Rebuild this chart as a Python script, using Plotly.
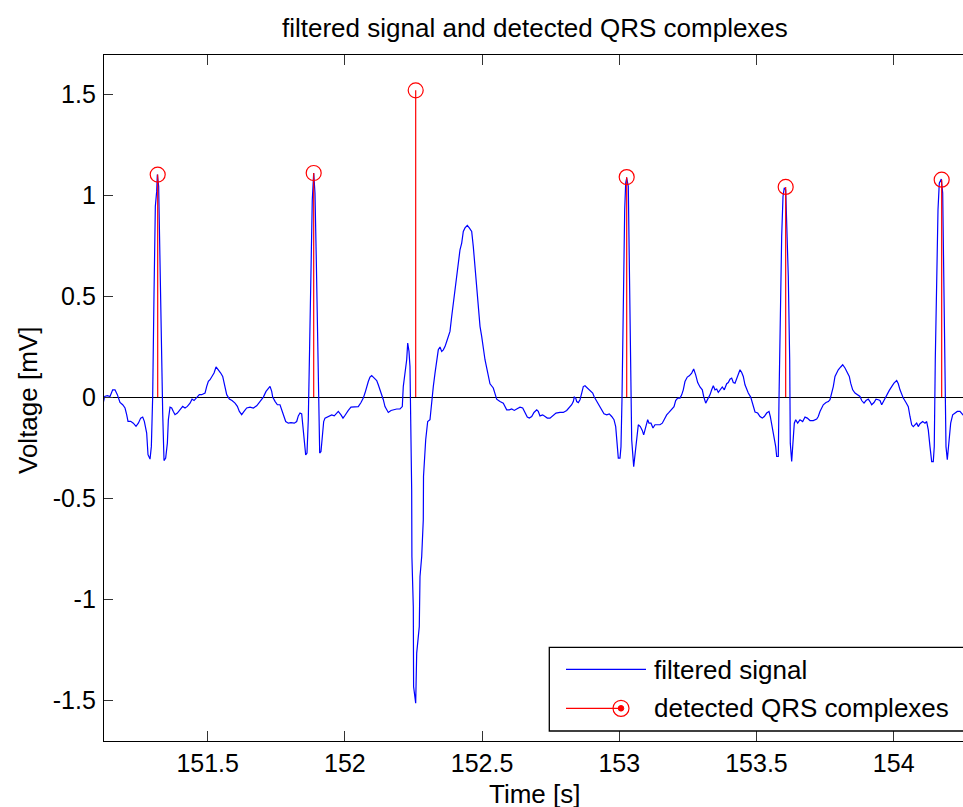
import plotly.graph_objects as go

# ---- data ----
time_s = [
    151.1197, 151.1245, 151.1343, 151.1440, 151.1537, 151.1622, 151.1707, 151.1804, 151.1902, 151.1987,
    151.2047, 151.2096, 151.2193, 151.2290, 151.2388, 151.2473, 151.2558, 151.2631, 151.2691, 151.2776,
    151.2825, 151.2898, 151.2947, 151.2995, 151.3044, 151.3092, 151.3141, 151.3165, 151.3213, 151.3262,
    151.3311, 151.3360, 151.3408, 151.3469, 151.3530, 151.3566, 151.3627, 151.3688, 151.3748, 151.3809,
    151.3894, 151.3991, 151.4089, 151.4174, 151.4259, 151.4356, 151.4429, 151.4502, 151.4599, 151.4696,
    151.4781, 151.4903, 151.4964, 151.5024, 151.5085, 151.5170, 151.5231, 151.5304, 151.5389, 151.5474,
    151.5547, 151.5595, 151.5644, 151.5693, 151.5790, 151.5887, 151.5996, 151.6081, 151.6154, 151.6239,
    151.6324, 151.6422, 151.6543, 151.6665, 151.6786, 151.6908, 151.7029, 151.7126, 151.7211, 151.7272,
    151.7333, 151.7369, 151.7454, 151.7540, 151.7635, 151.7697, 151.7755, 151.7843, 151.7937, 151.8036,
    151.8156, 151.8243, 151.8302, 151.8364, 151.8426, 151.8473, 151.8520, 151.8571, 151.8619, 151.8666,
    151.8717, 151.8765, 151.8812, 151.8863, 151.8910, 151.8958, 151.9009, 151.9056, 151.9082, 151.9129,
    151.9176, 151.9227, 151.9275, 151.9373, 151.9457, 151.9519, 151.9614, 151.9701, 151.9760, 151.9858,
    151.9931, 151.9978, 152.0051, 152.0124, 152.0222, 152.0368, 152.0488, 152.0587, 152.0670, 152.0732,
    152.0794, 152.0853, 152.0915, 152.0977, 152.1071, 152.1159, 152.1217, 152.1279, 152.1341, 152.1400,
    152.1461, 152.1523, 152.1582, 152.1680, 152.1764, 152.1888, 152.2008, 152.2092, 152.2128, 152.2190,
    152.2252, 152.2289, 152.2336, 152.2372, 152.2409, 152.2434, 152.2442, 152.2493, 152.2504, 152.2580,
    152.2617, 152.2711, 152.2737, 152.2799, 152.2857, 152.2865, 152.2945, 152.3017, 152.3101, 152.3163,
    152.3222, 152.3284, 152.3345, 152.3404, 152.3466, 152.3528, 152.3586, 152.3648, 152.3710, 152.3768,
    152.3830, 152.3892, 152.3950, 152.4012, 152.4074, 152.4133, 152.4195, 152.4257, 152.4315, 152.4377,
    152.4461, 152.4534, 152.4621, 152.4679, 152.4741, 152.4803, 152.4862, 152.4924, 152.4985, 152.5044,
    152.5106, 152.5168, 152.5226, 152.5288, 152.5408, 152.5470, 152.5532, 152.5652, 152.5773, 152.5897,
    152.5991, 152.6079, 152.6174, 152.6261, 152.6381, 152.6480, 152.6564, 152.6647, 152.6720, 152.6808,
    152.6891, 152.6990, 152.7048, 152.7110, 152.7208, 152.7292, 152.7376, 152.7475, 152.7536, 152.7595,
    152.7693, 152.7839, 152.7959, 152.8083, 152.8178, 152.8265, 152.8324, 152.8360, 152.8411, 152.8448,
    152.8506, 152.8568, 152.8630, 152.8688, 152.8750, 152.8834, 152.8932, 152.9031, 152.9089, 152.9176,
    152.9235, 152.9297, 152.9369, 152.9442, 152.9541, 152.9636, 152.9723, 152.9807, 152.9869, 152.9905,
    152.9942, 152.9964, 153.0026, 153.0062, 153.0098, 153.0146, 153.0197, 153.0233, 153.0270, 153.0328,
    153.0364, 153.0401, 153.0452, 153.0525, 153.0598, 153.0645, 153.0693, 153.0766, 153.0838, 153.0889,
    153.0962, 153.1035, 153.1083, 153.1155, 153.1228, 153.1301, 153.1399, 153.1483, 153.1567, 153.1640,
    153.1727, 153.1811, 153.1910, 153.1994, 153.2055, 153.2128, 153.2212, 153.2274, 153.2332, 153.2394,
    153.2478, 153.2551, 153.2638, 153.2711, 153.2784, 153.2857, 153.2941, 153.3025, 153.3076, 153.3149,
    153.3222, 153.3305, 153.3367, 153.3426, 153.3488, 153.3550, 153.3608, 153.3681, 153.3754, 153.3827,
    153.3914, 153.3972, 153.4034, 153.4096, 153.4155, 153.4217, 153.4279, 153.4337, 153.4399, 153.4461,
    153.4519, 153.4581, 153.4643, 153.4701, 153.4789, 153.4847, 153.4898, 153.4946, 153.5044, 153.5128,
    153.5211, 153.5284, 153.5372, 153.5456, 153.5503, 153.5554, 153.5601, 153.5649, 153.5700, 153.5736,
    153.5795, 153.5820, 153.5867, 153.5918, 153.5966, 153.6013, 153.6064, 153.6112, 153.6159, 153.6210,
    153.6232, 153.6283, 153.6319, 153.6378, 153.6429, 153.6501, 153.6585, 153.6684, 153.6768, 153.6851,
    153.6950, 153.7070, 153.7194, 153.7252, 153.7314, 153.7376, 153.7434, 153.7533, 153.7617, 153.7679,
    153.7741, 153.7799, 153.7861, 153.7923, 153.7981, 153.8069, 153.8142, 153.8226, 153.8287, 153.8382,
    153.8433, 153.8506, 153.8590, 153.8673, 153.8772, 153.8834, 153.8918, 153.8991, 153.9074, 153.9136,
    153.9198, 153.9282, 153.9355, 153.9439, 153.9500, 153.9563, 153.9621, 153.9683, 153.9745, 153.9840,
    153.9927, 154.0011, 154.0109, 154.0168, 154.0230, 154.0292, 154.0350, 154.0448, 154.0532, 154.0594,
    154.0656, 154.0714, 154.0776, 154.0838, 154.0896, 154.0958, 154.1057, 154.1141, 154.1202, 154.1261,
    154.1323, 154.1385, 154.1443, 154.1479, 154.1516, 154.1567, 154.1615, 154.1662, 154.1735, 154.1786,
    154.1834, 154.1881, 154.1906, 154.1954, 154.2004, 154.2077, 154.2150, 154.2234, 154.2318, 154.2416,
    154.2526, 154.2650,
]
voltage_mV = [
    -0.026, 0.003, 0.007, 0.003, 0.036, 0.036, 0.012, -0.026, -0.038, -0.054,
    -0.087, -0.120, -0.120, -0.129, -0.145, -0.129, -0.104, -0.099, -0.120, -0.178,
    -0.285, -0.307, -0.244, 0.003, 0.515, 0.944, 1.018, 1.101, 1.043, 0.680,
    0.185, -0.079, -0.314, -0.302, -0.228, -0.112, -0.050, -0.054, -0.071, -0.087,
    -0.079, -0.063, -0.046, -0.054, -0.046, -0.030, -0.010, -0.017, -0.005, 0.012,
    0.012, 0.020, 0.053, 0.078, 0.086, 0.106, 0.119, 0.149, 0.135, 0.119,
    0.102, 0.069, 0.045, 0.012, -0.010, -0.017, -0.030, -0.046, -0.071, -0.087,
    -0.071, -0.054, -0.050, -0.054, -0.043, -0.021, 0.000, 0.028, 0.045, 0.053,
    0.028, 0.000, -0.021, -0.038, -0.038, -0.063, -0.096, -0.121, -0.129, -0.126,
    -0.129, -0.121, -0.093, -0.079, -0.083, -0.146, -0.236, -0.286, -0.277, -0.112,
    0.267, 0.680, 0.977, 1.109, 1.010, 0.680, 0.250, -0.129, -0.277, -0.269,
    -0.195, -0.121, -0.104, -0.096, -0.093, -0.088, -0.093, -0.079, -0.071, -0.088,
    -0.104, -0.096, -0.079, -0.066, -0.050, -0.050, -0.047, -0.027, -0.005, 0.020,
    0.052, 0.077, 0.099, 0.107, 0.094, 0.082, 0.061, 0.036, 0.020, -0.013,
    -0.047, -0.066, -0.076, -0.066, -0.063, -0.059, -0.059, -0.047, 0.052, 0.119,
    0.185, 0.267, 0.226, 0.151, -0.146, -0.459, -0.789, -1.037, -1.433, -1.515,
    -1.267, -1.136, -0.888, -0.789, -0.607, -0.393, -0.211, -0.121, -0.112, -0.013,
    0.052, 0.119, 0.185, 0.234, 0.248, 0.226, 0.234, 0.250, 0.275, 0.300,
    0.325, 0.399, 0.465, 0.548, 0.614, 0.680, 0.729, 0.762, 0.820, 0.837,
    0.850, 0.837, 0.820, 0.746, 0.647, 0.548, 0.465, 0.350, 0.300, 0.234,
    0.185, 0.144, 0.102, 0.066, 0.045, 0.020, -0.010, -0.022, -0.030, -0.063,
    -0.063, -0.059, -0.066, -0.059, -0.050, -0.054, -0.079, -0.099, -0.104, -0.096,
    -0.076, -0.063, -0.071, -0.093, -0.088, -0.096, -0.104, -0.104, -0.096, -0.088,
    -0.079, -0.076, -0.076, -0.066, -0.054, -0.038, -0.022, 0.000, -0.005, -0.022,
    -0.027, -0.013, 0.020, 0.052, 0.056, 0.045, 0.036, 0.020, 0.000, -0.022,
    -0.038, -0.054, -0.071, -0.083, -0.088, -0.083, -0.096, -0.112, -0.146, -0.195,
    -0.261, -0.302, -0.302, -0.245, -0.013, 0.515, 0.927, 1.059, 1.084, 1.043,
    0.680, 0.185, -0.211, -0.344, -0.245, -0.178, -0.137, -0.146, -0.165, -0.187,
    -0.153, -0.112, -0.129, -0.129, -0.153, -0.137, -0.137, -0.137, -0.129, -0.112,
    -0.088, -0.076, -0.059, -0.047, -0.017, -0.005, -0.005, 0.011, 0.036, 0.077,
    0.099, 0.105, 0.119, 0.139, 0.110, 0.072, 0.050, 0.036, 0.003, -0.030,
    -0.010, 0.011, 0.036, 0.056, 0.036, 0.040, 0.023, 0.036, 0.050, 0.036,
    0.066, 0.072, 0.089, 0.094, 0.072, 0.069, 0.094, 0.110, 0.135, 0.122,
    0.102, 0.061, 0.036, 0.020, 0.000, -0.030, -0.063, -0.074, -0.079, -0.096,
    -0.104, -0.096, -0.079, -0.071, -0.096, -0.137, -0.170, -0.195, -0.245, -0.294,
    -0.294, -0.013, 0.515, 0.795, 0.993, 1.035, 1.026, 0.845, 0.597, 0.185,
    -0.228, -0.319, -0.245, -0.129, -0.112, -0.129, -0.112, -0.121, -0.099, -0.104,
    -0.116, -0.116, -0.109, -0.096, -0.071, -0.050, -0.038, -0.027, -0.022, -0.013,
    0.020, 0.052, 0.102, 0.119, 0.135, 0.149, 0.160, 0.144, 0.127, 0.102,
    0.069, 0.036, 0.020, 0.011, 0.003, -0.017, -0.030, -0.017, -0.010, -0.022,
    -0.038, -0.027, -0.010, -0.013, -0.017, -0.038, -0.022, -0.005, 0.011, 0.033,
    0.052, 0.069, 0.082, 0.066, 0.036, 0.011, -0.005, -0.027, -0.047, -0.096,
    -0.137, -0.146, -0.137, -0.129, -0.146, -0.132, -0.121, -0.129, -0.121, -0.162,
    -0.245, -0.319, -0.319, -0.245, 0.185, 0.680, 0.927, 1.059, 1.079, 1.010,
    0.597, 0.020, -0.245, -0.310, -0.245, -0.129, -0.088, -0.079, -0.071, -0.071,
    -0.088, -0.090,
]

qrs_time_s = [151.3178, 151.8863, 152.2580, 153.0270, 153.6064, 154.1749]
qrs_amp_mV = [1.101, 1.109, 1.518, 1.089, 1.040, 1.076]

x_tick_vals = [151.5, 152.0, 152.5, 153.0, 153.5, 154.0]
x_tick_text = ["151.5", "152", "152.5", "153", "153.5", "154"]
y_tick_vals = [-1.5, -1.0, -0.5, 0.0, 0.5, 1.0, 1.5]
y_tick_text = ["-1.5", "-1", "-0.5", "0", "0.5", "1", "1.5"]

title_text = "filtered signal and detected QRS complexes"
x_label = "Time [s]"
y_label = "Voltage [mV]"
legend_labels = ["filtered signal", "detected QRS complexes"]

FONT = "Liberation Sans, Arial, sans-serif"

# stems built from the detection arrays
stem_x, stem_y = [], []
for t, a in zip(qrs_time_s, qrs_amp_mV):
    stem_x += [t, t, None]
    stem_y += [0.0, a, None]

fig = go.Figure()
fig.add_trace(go.Scatter(x=time_s, y=voltage_mV, mode="lines",
                         line=dict(color="#0000ff", width=1.2),
                         showlegend=False, hoverinfo="skip"))
fig.add_trace(go.Scatter(x=stem_x, y=stem_y, mode="lines",
                         line=dict(color="#ff0000", width=1.2),
                         showlegend=False, hoverinfo="skip"))
fig.add_trace(go.Scatter(x=qrs_time_s, y=qrs_amp_mV, mode="markers",
                         marker=dict(symbol="circle-open", size=15,
                                     color="#ff0000", line=dict(width=1.2, color="#ff0000")),
                         showlegend=False, hoverinfo="skip"))

W, H = 963, 807
L, R, T, B = 104, 0, 55, 66
pw, ph = W - L - R, H - T - B

def px(xp):
    return (xp - L) / pw

def py(yp):
    return (H - B - yp) / ph

shapes = [
    dict(type="rect", xref="paper", yref="paper", x0=px(549.3), x1=px(975), y0=py(731), y1=py(647.3),
         fillcolor="white", line=dict(color="black", width=1.3), layer="above"),
    dict(type="line", xref="paper", yref="paper", x0=px(566), x1=px(646), y0=py(669.3), y1=py(669.3),
         line=dict(color="#0000ff", width=1.2), layer="above"),
    dict(type="line", xref="paper", yref="paper", x0=px(566), x1=px(621), y0=py(708.3), y1=py(708.3),
         line=dict(color="#ff0000", width=1.2), layer="above"),
    dict(type="circle", xref="paper", yref="paper", xsizemode="pixel", ysizemode="pixel",
         xanchor=px(621), yanchor=py(708.3), x0=-8, x1=8, y0=-8, y1=8,
         line=dict(color="#ff0000", width=1.2), layer="above"),
    dict(type="circle", xref="paper", yref="paper", xsizemode="pixel", ysizemode="pixel",
         xanchor=px(621), yanchor=py(708.3), x0=-2.8, x1=2.8, y0=-2.8, y1=2.8,
         fillcolor="#ff0000", line=dict(color="#ff0000", width=1), layer="above"),
]

annotations = [
    dict(text=title_text, xref="paper", yref="paper", x=px(535), y=py(28),
         xanchor="center", yanchor="middle", showarrow=False, font=dict(size=26)),
    dict(text=x_label, xref="paper", yref="paper", x=px(534), y=py(794),
         xanchor="center", yanchor="middle", showarrow=False, font=dict(size=26)),
    dict(text=y_label, xref="paper", yref="paper", x=px(28), y=py(401),
         xanchor="center", yanchor="middle", showarrow=False, textangle=-90, font=dict(size=26)),
    dict(text=legend_labels[0], xref="paper", yref="paper", x=px(652), y=py(669.5),
         xanchor="left", yanchor="middle", showarrow=False, font=dict(size=26)),
    dict(text=legend_labels[1], xref="paper", yref="paper", x=px(652), y=py(708),
         xanchor="left", yanchor="middle", showarrow=False, font=dict(size=26)),
]

fig.update_layout(
    width=W, height=H,
    margin=dict(l=L, r=R, t=T, b=B, pad=0),
    paper_bgcolor="white", plot_bgcolor="white",
    font=dict(family=FONT, color="black", size=25),
    showlegend=False, hovermode=False,
    shapes=shapes, annotations=annotations,
    xaxis=dict(range=[151.1221, 154.2526], tickvals=x_tick_vals, ticktext=x_tick_text,
               ticks="inside", ticklen=10, tickwidth=1, tickcolor="#333333",
               showline=True, linecolor="black", linewidth=1.3, mirror="ticks",
               showgrid=False, zeroline=False, ticklabelstandoff=0,
               tickfont=dict(size=25)),
    yaxis=dict(range=[-1.702, 1.693], tickvals=y_tick_vals, ticktext=y_tick_text,
               ticks="inside", ticklen=9, tickwidth=1, tickcolor="#333333",
               showline=True, linecolor="black", linewidth=1.3, mirror=False,
               showgrid=False, zeroline=True, zerolinecolor="black", zerolinewidth=1.2,
               ticklabelstandoff=2, tickfont=dict(size=25)),
)

fig.write_html("out.html", config={"displayModeBar": False})
